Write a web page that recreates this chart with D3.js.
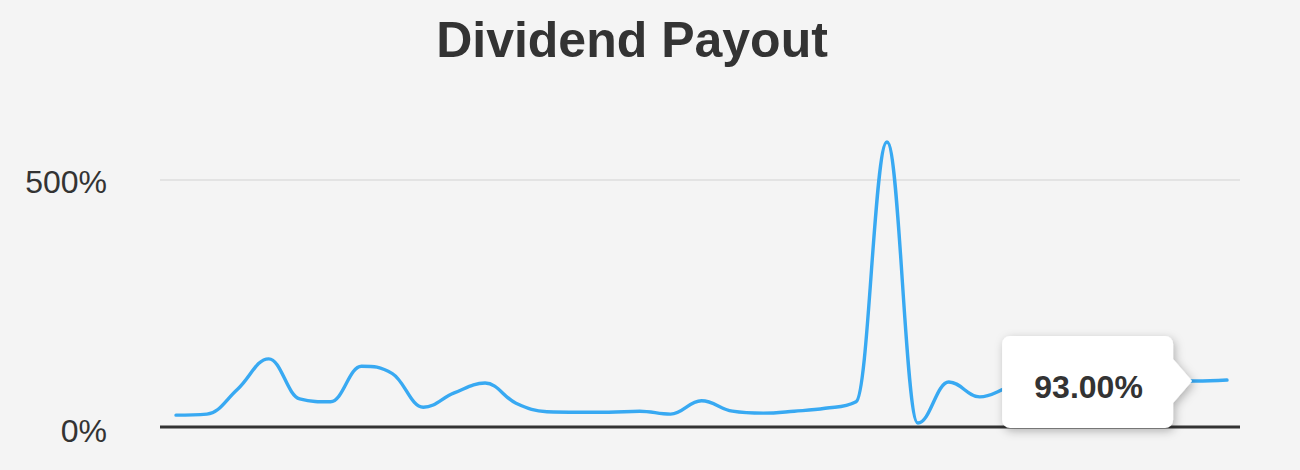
<!DOCTYPE html>
<html>
<head>
<meta charset="utf-8">
<script src="https://cdn.jsdelivr.net/npm/d3@7"></script>
<style>
  html, body { margin: 0; padding: 0; background: #f4f4f4; }
  svg { display: block; }
</style>
</head>
<body>
<svg id="chart" width="1300" height="470"></svg>
<script>
// ---- data ----
const title = "Dividend Payout";
const periods = d3.range(35); // sequential periods (no axis labels shown)
const payout = [24, 26, 77, 138, 57, 51, 123, 108, 40, 69, 89, 48, 31, 30, 30, 32, 26, 53,
                32, 28, 32, 38, 51, 577, 8, 91, 61, 81, 88, 92, 90, 95, 94, 93, 95];
const yTicks = [0, 500];
const tooltipIndex = 33;

// ---- layout ----
const W = 1300, H = 470;
const svg = d3.select("#chart");
svg.append("rect").attr("width", W).attr("height", H).attr("fill", "#f4f4f4");

const x = d3.scaleLinear().domain([0, periods.length - 1]).range([176, 1227]);
const y = d3.scaleLinear().domain([0, 500]).range([427, 180]);
const plotLeft = 160, plotRight = 1240;

// title
svg.append("text")
  .attr("x", 632).attr("y", 57)
  .attr("text-anchor", "middle")
  .attr("font-family", "Liberation Sans, Arial, sans-serif")
  .attr("font-weight", "bold")
  .attr("font-size", 50)
  .attr("fill", "#333")
  .text(title);

// gridlines
svg.append("g").selectAll("line")
  .data(yTicks.filter(d => d !== 0))
  .join("line")
  .attr("x1", plotLeft).attr("x2", plotRight)
  .attr("y1", d => y(d)).attr("y2", d => y(d))
  .attr("stroke", "#e3e3e3").attr("stroke-width", 2);

// y labels
svg.append("g").selectAll("text")
  .data(yTicks)
  .join("text")
  .attr("x", 107)
  .attr("y", d => y(d) + (d === 0 ? 15 : 13))
  .attr("text-anchor", "end")
  .attr("font-family", "Liberation Sans, Arial, sans-serif")
  .attr("font-size", 32)
  .attr("fill", "#333")
  .text(d => d + "%");

// baseline axis
svg.append("line")
  .attr("x1", plotLeft).attr("x2", plotRight)
  .attr("y1", y(0)).attr("y2", y(0))
  .attr("stroke", "#333").attr("stroke-width", 3);

// Highcharts-style spline path built from scaled points
function splinePath(pts) {
  const smoothing = 1.5, denom = smoothing + 1;
  const p = d3.path();
  const cont = pts.map(() => ({}));
  pts.forEach((pt, i) => {
    const [px, py] = pt;
    let lcx = px, lcy = py, rcx = px, rcy = py;
    if (i > 0 && i < pts.length - 1) {
      const [lx, ly] = pts[i - 1], [nx, ny] = pts[i + 1];
      lcx = (smoothing * px + lx) / denom;
      lcy = (smoothing * py + ly) / denom;
      rcx = (smoothing * px + nx) / denom;
      rcy = (smoothing * py + ny) / denom;
      let corr = 0;
      if (rcx !== lcx) corr = ((rcy - lcy) * (rcx - px)) / (rcx - lcx) + py - rcy;
      lcy += corr; rcy += corr;
      if (lcy > ly && lcy > py) { lcy = Math.max(ly, py); rcy = 2 * py - lcy; }
      else if (lcy < ly && lcy < py) { lcy = Math.min(ly, py); rcy = 2 * py - lcy; }
      if (rcy > ny && rcy > py) { rcy = Math.max(ny, py); lcy = 2 * py - rcy; }
      else if (rcy < ny && rcy < py) { rcy = Math.min(ny, py); lcy = 2 * py - rcy; }
    }
    cont[i] = { lcx, lcy, rcx, rcy };
    if (i === 0) p.moveTo(px, py);
    else p.bezierCurveTo(cont[i - 1].rcx, cont[i - 1].rcy, lcx, lcy, px, py);
  });
  return p.toString();
}

const pts = payout.map((v, i) => [x(periods[i]), y(v)]);
svg.append("path")
  .attr("d", splinePath(pts))
  .attr("fill", "none")
  .attr("stroke", "#38a9f2")
  .attr("stroke-width", 3.4)
  .attr("stroke-linejoin", "round")
  .attr("stroke-linecap", "round");

// tooltip
const defs = svg.append("defs");
const f = defs.append("filter").attr("id", "shadow").attr("x", "-20%").attr("y", "-30%").attr("width", "150%").attr("height", "170%");
f.append("feDropShadow").attr("dx", 2).attr("dy", 3).attr("stdDeviation", 5).attr("flood-color", "#000").attr("flood-opacity", 0.28);

const tx = x(periods[tooltipIndex]) - 4, ty = y(payout[tooltipIndex]);
const bx0 = tx - 190, bx1 = tx - 19, by0 = 336, by1 = 428, r = 8;
const tp = d3.path();
tp.moveTo(bx0 + r, by0);
tp.lineTo(bx1 - r, by0);
tp.arcTo(bx1, by0, bx1, by0 + r, r);
tp.lineTo(bx1, ty - 22);
tp.lineTo(tx, ty);
tp.lineTo(bx1, ty + 22);
tp.lineTo(bx1, by1 - r);
tp.arcTo(bx1, by1, bx1 - r, by1, r);
tp.lineTo(bx0 + r, by1);
tp.arcTo(bx0, by1, bx0, by1 - r, r);
tp.lineTo(bx0, by0 + r);
tp.arcTo(bx0, by0, bx0 + r, by0, r);
tp.closePath();
svg.append("path").attr("d", tp.toString()).attr("fill", "#fff").attr("filter", "url(#shadow)");
svg.append("text")
  .attr("x", (bx0 + bx1) / 2 + 1).attr("y", 398)
  .attr("text-anchor", "middle")
  .attr("font-family", "Liberation Sans, Arial, sans-serif")
  .attr("font-weight", "bold")
  .attr("font-size", 32)
  .attr("fill", "#333")
  .text(d3.format(".2f")(payout[tooltipIndex]) + "%");
</script>
</body>
</html>
